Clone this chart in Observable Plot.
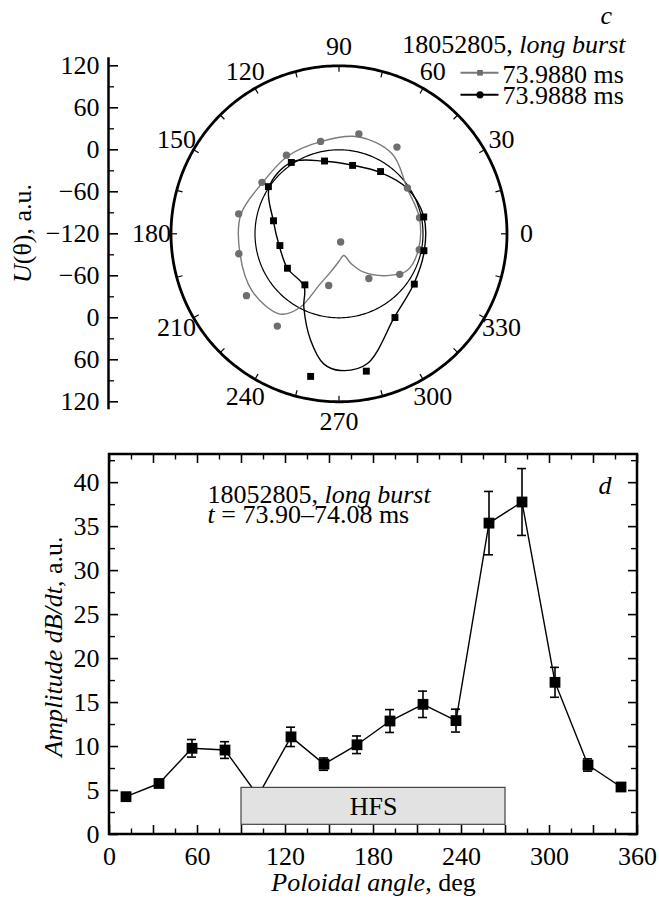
<!DOCTYPE html>
<html><head><meta charset="utf-8">
<script src="https://cdn.jsdelivr.net/npm/d3@7"></script>
<script src="https://cdn.jsdelivr.net/npm/@observablehq/plot@0.6"></script>
<style>
html,body{margin:0;padding:0;background:#fff;}
#chart{width:659px;}
#chart svg{display:block;white-space:pre;font-family:'Liberation Serif','Times New Roman',Times,serif;}
#chart svg text{font-family:'Liberation Serif','Times New Roman',Times,serif;}
</style></head><body><div id="chart"></div>
<script>
// ---------------- Panel c (polar) data ----------------
const probeAngles = [11.25, 33.75, 56.25, 78.75, 101.25, 123.75, 146.25, 168.75, 191.25, 213.75, 236.25, 258.75, 281.25, 303.75, 326.25, 348.75];
const grayLabel = "73.9880 ms";
const blackLabel = "73.9888 ms";
const grayU  = [-2.7, -2.4, 29.0, 25.4, 14.6, 15.1, 12.3, 26.1, 25.9, 39.0, 38.6, -44.7, -108.1, -43.3, -15.7, -3.1];
const blackU = [3.4, null, -13.1, -20.4, -14.0, 2.6, 1.3, -24.6, -33.9, -31.4, -32.3, 87.7, 80.1, 23.9, 9.4, 3.7];
// smooth fit curves at these angles
const grayFitAngles = [11.25, 33.75, 56.25, 78.75, 101.25, 123.75, 146.25, 168.75, 191.25, 213.75, 233.7, 242.1, 249.3, 257.5, 270, 282.5, 292, 302.8, 319, 331.7, 348.75];
const grayFitU      = [-2.9, -2.9, 17.1, 21.4, 14.3, 12.9, 11.4, 22.9, 24.3, 28.6, 22.3, -0.9, -43.1, -63.9, -80.7, -88.3, -74.3, -54.7, -29.0, -9.4, -4.3];
const blackFitAngles = [11.25, 33.75, 56.25, 78.75, 101.25, 123.75, 146.25, 168.75, 191.25, 213.75, 236.25, 244.4, 255, 263.3, 270.6, 282.2, 303.75, 326.25, 348.75];
const blackFitU      = [3.6, -2.9, -14.3, -20.0, -14.3, 2.9, 0.0, -24.3, -32.9, -31.4, -30.0, -3.7, 37.1, 67.1, 75.3, 70.0, 22.9, 8.6, 4.3];
const radialTickValues = [-120, -60, 0, 60, 120];
const radialMinorValues = [-90, -30, 30, 90];
const angleLabels = [0, 30, 60, 90, 120, 150, 180, 210, 240, 270, 300, 330];
const angleTickStep = 15;

// ---------------- Panel d data ----------------
const poloidalAngles = [11.25, 33.75, 56.25, 78.75, 101.25, 123.75, 146.25, 168.75, 191.25, 213.75, 236.25, 258.75, 281.25, 303.75, 326.25, 348.75];
const amplitude = [4.3, 5.8, 9.8, 9.6, 4.4, 11.1, 8.0, 10.2, 12.9, 14.8, 12.95, 35.4, 37.8, 17.3, 7.9, 5.4];
const amplitudeErr = [0.3, 0.3, 1.0, 0.95, 0.3, 1.1, 0.7, 1.0, 1.3, 1.5, 1.3, 3.6, 3.8, 1.7, 0.7, 0.2];
const xTickLabels = [0, 60, 120, 180, 240, 300, 360];
const yTickLabels = [0, 5, 10, 15, 20, 25, 30, 35, 40];
const hfsRange = [90, 270];
const hfsBand = [1.1, 5.3];

const FONT = "'Liberation Serif', 'Times New Roman', Times, serif";
const FS = 26;
const minus = v => (v < 0 ? "\u2212" + Math.abs(v) : String(v));
const T = o => ({fontSize: FS, fontFamily: FONT, fill: "black", ...o});

const NS = "http://www.w3.org/2000/svg";
function italicizeNode(node) {
  const s = node.textContent;
  if (!s.includes("*")) return;
  while (node.firstChild) node.removeChild(node.firstChild);
  s.split("*").forEach((part, i) => {
    if (!part) return;
    const ts = document.createElementNS(NS, "tspan");
    if (i % 2) ts.setAttribute("font-style", "italic");
    ts.textContent = part;
    node.appendChild(ts);
  });
}
function styleText(svg) {
  svg.setAttribute("font-family", FONT);
  svg.querySelectorAll("text").forEach(t => {
    t.setAttribute("font-family", FONT);
    const lines = Array.from(t.children).filter(c => c.tagName === "tspan");
    if (lines.length) lines.forEach(italicizeNode); else italicizeNode(t);
  });
}

// ---------------- Panel c ----------------
const W = 659, H1 = 420, H2 = 484;
const cx = 338.5, cy = 233.3, R = 168;
const rMin = -120, rMax = 120, span = rMax - rMin;
const upp = span / R; // data units per pixel
const toXY = (deg, u) => { const r = u - rMin, t = deg * Math.PI / 180; return {x: r * Math.cos(t), y: r * Math.sin(t)}; };
const px2x = px => (px - cx) * upp;
const px2y = py => (cy - py) * upp;

const circleAngles = d3.range(0, 361, 1);
const outerCircle = circleAngles.map(a => toXY(a, rMax));
const zeroCircle = circleAngles.map(a => toXY(a, 0));
const angTicks = d3.range(0, 360, angleTickStep).map(a => ({p1: toXY(a, rMax), p2: toXY(a, rMax - 6 * upp)}));
const angText = angleLabels.map(a => ({...toXY(a, rMax + 19.5 * upp), label: String(a)}));

const grayPts = probeAngles.map((a, i) => toXY(a, grayU[i]));
const blackPts = probeAngles.map((a, i) => blackU[i] == null ? null : toXY(a, blackU[i])).filter(d => d);
const grayFit = grayFitAngles.map((a, i) => toXY(a, grayFitU[i]));
const blackFit = blackFitAngles.map((a, i) => toXY(a, blackFitU[i]));

const axX = px2x(108);
const majorTicks = radialTickValues.flatMap(v => v === rMin ? [{v, pos: 0}] : [{v, pos: v - rMin}, {v, pos: -(v - rMin)}]);
const minorTicks = radialMinorValues.flatMap(v => [v - rMin, -(v - rMin)]);

const polar = Plot.plot({
  width: W, height: H1,
  marginTop: 0, marginRight: 0, marginBottom: 0, marginLeft: 0,
  x: {domain: [-span, span], range: [cx - R, cx + R], axis: null},
  y: {domain: [-span, span], range: [cy + R, cy - R], axis: null},
  style: {fontFamily: FONT, fontSize: FS + "px", background: "white", overflow: "visible"},
  marks: [
    Plot.line(zeroCircle, {x: "x", y: "y", stroke: "black", strokeWidth: 1.2}),
    Plot.line(grayFit, {x: "x", y: "y", curve: "catmull-rom-closed", stroke: "#7a7a7a", strokeWidth: 1.4}),
    Plot.line(blackFit, {x: "x", y: "y", curve: "catmull-rom-closed", stroke: "black", strokeWidth: 1.4}),
    Plot.dot(grayPts, {x: "x", y: "y", r: 3.7, fill: "#6e6e6e", stroke: "none"}),
    Plot.dot(blackPts, {x: "x", y: "y", symbol: "square", r: 3.9, fill: "black", stroke: "none"}),
    Plot.line(outerCircle, {x: "x", y: "y", stroke: "black", strokeWidth: 2.8}),
    Plot.link(angTicks, {x1: d => d.p1.x, y1: d => d.p1.y, x2: d => d.p2.x, y2: d => d.p2.y, stroke: "black", strokeWidth: 1.2}),
    Plot.text(angText, T({x: "x", y: "y", text: "label", textAnchor: "middle", lineAnchor: "middle"})),
    // radial axis
    Plot.ruleX([axX], {x: d => d, y1: -span - 8 * upp, y2: span + 8 * upp, stroke: "black", strokeWidth: 2.5}),
    Plot.ruleY(majorTicks, {y: "pos", x1: axX, x2: axX + 10 * upp, stroke: "black", strokeWidth: 1.6}),
    Plot.ruleY(minorTicks, {y: d => d, x1: axX, x2: axX + 6 * upp, stroke: "black", strokeWidth: 1.3}),
    Plot.text(majorTicks, T({x: axX, y: "pos", dx: -9, text: d => minus(d.v), textAnchor: "end", lineAnchor: "middle"})),
    Plot.text(["*U*(θ), a.u."], T({frameAnchor: "top-left", dx: 22, dy: 233, rotate: -90, textAnchor: "middle", lineAnchor: "middle"})),
    // annotations and legend
    Plot.text(["*c*"], T({frameAnchor: "top-left", dx: 600, dy: 23, textAnchor: "start", lineAnchor: "bottom"})),
    Plot.text(["18052805, *long burst*"], T({frameAnchor: "top-left", dx: 625, dy: 52, textAnchor: "end", lineAnchor: "bottom"})),
    Plot.ruleY([px2y(72.3)], {y: d => d, x1: px2x(460.5), x2: px2x(498.5), stroke: "#7a7a7a", strokeWidth: 2}),
    Plot.dot([0], {x: px2x(479.5), y: px2y(72.3), symbol: "square", r: 3.2, fill: "#6e6e6e", stroke: "none"}),
    Plot.ruleY([px2y(94.3)], {y: d => d, x1: px2x(460.5), x2: px2x(498.5), stroke: "black", strokeWidth: 2}),
    Plot.dot([0], {x: px2x(479.5), y: px2y(94.3), r: 3.6, fill: "black", stroke: "none"}),
    Plot.text([grayLabel + "\n" + blackLabel], T({frameAnchor: "top-left", dx: 502, dy: 103.5, textAnchor: "start", lineAnchor: "bottom", lineHeight: 21.5 / FS}))
  ]
});
styleText(polar);

// ---------------- Panel d ----------------
const xDom2 = [0, 360], yDom2 = [0, 43.2];
const x2Range = [109, 637], y2Range = [414, 34];
const ppx = (x2Range[1] - x2Range[0]) / (xDom2[1] - xDom2[0]);
const ppy = (y2Range[0] - y2Range[1]) / (yDom2[1] - yDom2[0]);
const ampData = poloidalAngles.map((a, i) => ({a, v: amplitude[i], e: amplitudeErr[i]}));
const cap = 4.5 / ppx;
const xMajor = d3.range(0, 361, 30), xMinor = d3.range(15, 360, 30);
const yMajor = d3.range(0, 41, 5), yMinor = d3.range(2.5, 43, 5);

const line = Plot.plot({
  width: W, height: H2,
  marginTop: 0, marginRight: 0, marginBottom: 0, marginLeft: 0,
  x: {domain: xDom2, range: x2Range, axis: null},
  y: {domain: yDom2, range: y2Range, axis: null},
  style: {fontFamily: FONT, fontSize: FS + "px", background: "white", overflow: "visible"},
  marks: [
    // ticks (inward)
    Plot.ruleX(xMajor, {x: d => d, y1: yDom2[0], y2: yDom2[0] + 9 / ppy, stroke: "black", strokeWidth: 1.6}),
    Plot.ruleX(xMinor, {x: d => d, y1: yDom2[0], y2: yDom2[0] + 5.5 / ppy, stroke: "black", strokeWidth: 1.4}),
    Plot.ruleX(xMajor, {x: d => d, y1: yDom2[1], y2: yDom2[1] - 9 / ppy, stroke: "black", strokeWidth: 1.6}),
    Plot.ruleX(xMinor, {x: d => d, y1: yDom2[1], y2: yDom2[1] - 5.5 / ppy, stroke: "black", strokeWidth: 1.4}),
    Plot.ruleY(yMajor, {y: d => d, x1: xDom2[0], x2: xDom2[0] + 9 / ppx, stroke: "black", strokeWidth: 1.6}),
    Plot.ruleY(yMinor, {y: d => d, x1: xDom2[0], x2: xDom2[0] + 6 / ppx, stroke: "black", strokeWidth: 1.4}),
    Plot.ruleY(yMajor, {y: d => d, x1: xDom2[1], x2: xDom2[1] - 9 / ppx, stroke: "black", strokeWidth: 1.6}),
    Plot.ruleY(yMinor, {y: d => d, x1: xDom2[1], x2: xDom2[1] - 6 / ppx, stroke: "black", strokeWidth: 1.4}),
    // data
    Plot.line(ampData, {x: "a", y: "v", stroke: "black", strokeWidth: 1.4}),
    Plot.ruleX(ampData, {x: "a", y1: d => d.v - d.e, y2: d => d.v + d.e, stroke: "black", strokeWidth: 1.6}),
    Plot.ruleY(ampData, {y: d => d.v + d.e, x1: d => d.a - cap, x2: d => d.a + cap, stroke: "black", strokeWidth: 1.6}),
    Plot.ruleY(ampData, {y: d => d.v - d.e, x1: d => d.a - cap, x2: d => d.a + cap, stroke: "black", strokeWidth: 1.6}),
    Plot.dot(ampData, {x: "a", y: "v", symbol: "square", r: 6.1, fill: "black", stroke: "none"}),
    // HFS band
    Plot.rect([0], {x1: hfsRange[0], x2: hfsRange[1], y1: hfsBand[0], y2: hfsBand[1], fill: "#e2e2e2", stroke: "#444", strokeWidth: 1.2}),
    Plot.text(["HFS"], T({x: (hfsRange[0] + hfsRange[1]) / 2, y: (hfsBand[0] + hfsBand[1]) / 2, textAnchor: "middle", lineAnchor: "middle"})),
    // frame
    Plot.rect([0], {x1: xDom2[0], x2: xDom2[1], y1: yDom2[0], y2: yDom2[1], fill: "none", stroke: "black", strokeWidth: 2.5}),
    // tick labels
    Plot.text(xTickLabels, T({x: d => d, y: yDom2[0], dy: 30, text: d => String(d), textAnchor: "middle", lineAnchor: "bottom"})),
    Plot.text(yTickLabels, T({x: xDom2[0], y: d => d, dx: -10, text: d => String(d), textAnchor: "end", lineAnchor: "middle"})),
    // titles & annotations
    Plot.text(["*Poloidal angle*, deg"], T({frameAnchor: "top-left", dx: 373, dy: 470, textAnchor: "middle", lineAnchor: "bottom"})),
    Plot.text(["*Amplitude dB/dt*, a.u."], T({frameAnchor: "top-left", dx: 53, dy: 226, rotate: -90, textAnchor: "middle", lineAnchor: "middle"})),
    Plot.text(["18052805, *long burst*\n*t* = 73.90–74.08 ms"], T({frameAnchor: "top-left", dx: 207, dy: 102, textAnchor: "start", lineAnchor: "bottom", lineHeight: 20 / FS})),
    Plot.text(["*d*"], T({frameAnchor: "top-left", dx: 598, dy: 73, textAnchor: "start", lineAnchor: "bottom"}))
  ]
});
styleText(line);

const chart = document.getElementById("chart");
chart.appendChild(polar);
chart.appendChild(line);
</script>
</body></html>
